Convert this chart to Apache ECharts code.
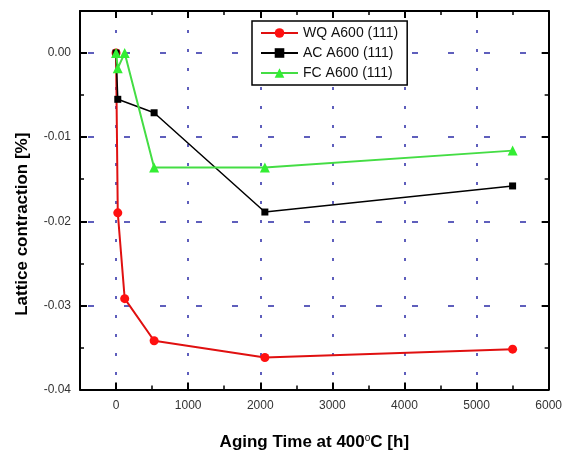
<!DOCTYPE html>
<html><head><meta charset="utf-8">
<script src="https://cdn.jsdelivr.net/npm/echarts@6/dist/echarts.min.js"></script>
<style>html,body{margin:0;padding:0;background:#fff}#c{width:565px;height:456px}</style>
</head><body><div id="c"></div>
<script>
// ---- data ----
const seriesNames = ['WQ A600 (111)', 'AC A600 (111)', 'FC A600 (111)'];
const wqTime = [0, 24, 120, 528, 2064, 5500];
const wqVal  = [0, -0.019, -0.0292, -0.0342, -0.0362, -0.0352];
const acTime = [0, 24, 528, 2064, 5500];
const acVal  = [0, -0.0055, -0.0071, -0.0189, -0.0158];
const fcTime = [0, 24, 120, 528, 2064, 5500];
const fcVal  = [0, -0.0018, 0, -0.0136, -0.0136, -0.0116];
const xTicks = [0, 1000, 2000, 3000, 4000, 5000, 6000];
const yTicks = [0, -0.01, -0.02, -0.03, -0.04];

const FONT = '"Liberation Sans", Arial, sans-serif';
const GRIDC = '#2b2ba6';
const X_MIN = -500, X_MAX = 6000, Y_MIN = -0.04, Y_MAX = 0.005;

function pairs(xs, ys) { return xs.map((x, i) => [x, ys[i]]); }

function xAx(pos, major, extra) {
  return Object.assign({
    type: 'value', position: pos, min: X_MIN, max: X_MAX,
    interval: major ? undefined : 500,
    axisLine: { show: major, onZero: false, lineStyle: { color: '#000', width: 2 } },
    axisTick: major
      ? { show: true, inside: true, length: 7, customValues: xTicks, lineStyle: { color: '#000', width: 2 } }
      : { show: true, inside: true, length: 4, lineStyle: { color: '#000', width: 1.5 } },
    axisLabel: { show: false },
    splitLine: { show: false }
  }, extra || {});
}
function yAx(pos, major, extra) {
  return Object.assign({
    type: 'value', position: pos, min: Y_MIN, max: Y_MAX,
    interval: major ? undefined : 0.005,
    axisLine: { show: major, onZero: false, lineStyle: { color: '#000', width: 2 } },
    axisTick: major
      ? { show: true, inside: true, length: 7, customValues: yTicks, lineStyle: { color: '#000', width: 2 } }
      : { show: true, inside: true, length: 4, lineStyle: { color: '#000', width: 1.5 } },
    axisLabel: { show: false },
    splitLine: { show: false }
  }, extra || {});
}

const chart = echarts.init(document.getElementById('c'), null, { renderer: 'canvas' });
chart.setOption({
  animation: false,
  backgroundColor: '#fff',
  grid: { left: 80, right: 14, top: 11, bottom: 64, containLabel: false },
  legend: {
    data: seriesNames,
    orient: 'vertical', left: 252, top: 21,
    borderColor: '#000', borderWidth: 1.5, backgroundColor: '#fff',
    padding: [5, 9, 5, 8], itemGap: 6, itemWidth: 37, itemHeight: 12,
    textStyle: { fontFamily: FONT, fontSize: 14, color: '#111' }
  },
  xAxis: [
    xAx('bottom', true, {
      axisLabel: { show: true, customValues: xTicks, margin: 10, fontFamily: FONT, fontSize: 12, color: '#333',
        formatter: v => String(v) },
      splitLine: { show: true, lineStyle: { color: GRIDC, width: 1.5, type: [3, 16] } },
      name: '{a|Aging Time at 400}{s|o}{a|C [h]}',
      nameLocation: 'middle', nameGap: 44,
      nameTextStyle: { rich: {
        a: { fontFamily: FONT, fontSize: 17, fontWeight: 'bold', color: '#000' },
        s: { fontFamily: FONT, fontSize: 10, color: '#000', verticalAlign: 'top', padding: [0, 0, 8, 0] }
      } }
    }),
    xAx('bottom', false),
    xAx('top', true),
    xAx('top', false)
  ],
  yAxis: [
    yAx('left', true, {
      axisLabel: { show: true, customValues: yTicks, margin: 9, fontFamily: FONT, fontSize: 12, color: '#333',
        formatter: v => v.toFixed(2) },
      splitLine: { show: true, lineStyle: { color: GRIDC, width: 1.5, type: [6, 30], dashOffset: 28 } },
      name: 'Lattice contraction [%]', nameLocation: 'middle', nameGap: 49,
      nameTextStyle: { fontFamily: FONT, fontSize: 17, fontWeight: 'bold', color: '#000', padding: [0, 48, 0, 0] }
    }),
    yAx('left', false),
    yAx('right', true),
    yAx('right', false)
  ],
  series: [
    { name: seriesNames[0], type: 'line', data: pairs(wqTime, wqVal),
      symbol: 'circle', symbolSize: 9, color: '#f01010',
      lineStyle: { width: 2, color: '#e01010' }, itemStyle: { color: '#ff1010' } },
    { name: seriesNames[1], type: 'line', data: pairs(acTime, acVal),
      symbol: 'rect', symbolSize: 7, color: '#000',
      lineStyle: { width: 1.5, color: '#000' }, itemStyle: { color: '#000' } },
    { name: seriesNames[2], type: 'line', data: pairs(fcTime, fcVal),
      symbol: 'triangle', symbolSize: 10, color: '#3ee03e',
      lineStyle: { width: 2, color: '#44dd44' }, itemStyle: { color: '#33ee33' } }
  ]
});
</script>
</body></html>
